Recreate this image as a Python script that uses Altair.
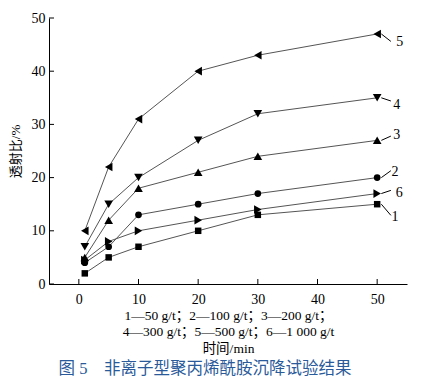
import altair as alt
import pandas as pd

# ---- data ----
time_min = [1, 5, 10, 20, 30, 50]
s1 = [2, 5, 7, 10, 13, 15]        # 50 g/t
s2 = [4, 7, 13, 15, 17, 20]       # 100 g/t
s3 = [5, 12, 18, 21, 24, 27]      # 200 g/t
s4 = [7, 15, 20, 27, 32, 35]      # 300 g/t
s5 = [10, 22, 31, 40, 43, 47]     # 500 g/t
s6 = [4.5, 8, 10, 12, 14, 17]     # 1 000 g/t
series_ids = ["1", "2", "3", "4", "5", "6"]
series_vals = [s1, s2, s3, s4, s5, s6]
shapes = ["square", "circle", "triangle-up", "triangle-down", "triangle-left", "triangle-right"]
marker_sizes = [42, 45, 75, 75, 75, 75]

# end-label placement (data units)
label_x = [53.0, 53.0, 53.3, 53.3, 53.8, 53.7]
label_y = [12.6, 21.1, 28.0, 33.6, 45.5, 17.1]
leader_y = [12.9, 21.3, 27.8, 34.4, 45.6, 17.6]

x_ticks = [0, 10, 20, 30, 40, 50]
y_ticks = [0, 10, 20, 30, 40, 50]

FONT = "Liberation Serif, Noto Sans CJK SC"

rows = []
for sid, vals, sz in zip(series_ids, series_vals, marker_sizes):
    for t, v in zip(time_min, vals):
        rows.append({"series": sid, "time": t, "value": v, "msize": sz})
df = pd.DataFrame(rows)

lab = pd.DataFrame({
    "series": series_ids,
    "lx": label_x,
    "ly": label_y,
    "px": [50.7] * 6,
    "py": [v[-1] for v in series_vals],
    "ex": [52.3] * 6,
    "ey": leader_y,
})

xs = alt.Scale(domain=[-5, 55], nice=False, zero=False)
ys = alt.Scale(domain=[0, 50], nice=False)

x_axis = alt.Axis(
    values=x_ticks, tickSize=0, labelPadding=8, grid=False,
    title=["1—50 g/t；2—100 g/t；3—200 g/t；",
           "4—300 g/t；5—500 g/t；6—1 000 g/t",
           "时间/min"],
    titleLineHeight=16.5, titlePadding=2, titleFontSize=13.5,
)
y_axis = alt.Axis(
    values=y_ticks, tickSize=0, labelPadding=4, grid=False,
    title="透射比/%", titlePadding=9,
)

base = alt.Chart(df)

lines = base.mark_line(color="#555555", strokeWidth=1).encode(
    x=alt.X("time:Q", scale=xs, axis=x_axis),
    y=alt.Y("value:Q", scale=ys, axis=y_axis),
    detail="series:N",
)

points = base.mark_point(filled=True, color="black", opacity=1).encode(
    x=alt.X("time:Q", scale=xs),
    y=alt.Y("value:Q", scale=ys),
    shape=alt.Shape("series:N", scale=alt.Scale(domain=series_ids, range=shapes), legend=None),
    size=alt.Size("msize:Q", scale=None, legend=None),
)

leaders = alt.Chart(lab).mark_rule(color="black", strokeWidth=1).encode(
    x=alt.X("px:Q", scale=xs), x2="ex:Q",
    y=alt.Y("py:Q", scale=ys), y2="ey:Q",
)

labels = alt.Chart(lab).mark_text(font=FONT, fontSize=14, color="black").encode(
    x=alt.X("lx:Q", scale=xs),
    y=alt.Y("ly:Q", scale=ys),
    text="series:N",
)

tick_df_x = pd.DataFrame({"t": x_ticks})
tick_df_y = pd.DataFrame({"t": y_ticks})
xticks = alt.Chart(tick_df_x).mark_rule(color="black").encode(
    x=alt.X("t:Q", scale=xs), y=alt.value(266), y2=alt.value(261)
)
yticks = alt.Chart(tick_df_y).mark_rule(color="black").encode(
    y=alt.Y("t:Q", scale=ys), x=alt.value(0), x2=alt.value(5)
)

chart = alt.layer(lines, points, leaders, labels, xticks, yticks).properties(
    width=358, height=266,
    padding={"left": 41, "top": 10, "right": 21, "bottom": 94},
    autosize=alt.AutoSizeParams(type="none"),
    background="white",
    title=alt.TitleParams(
        "图 5\u3000非离子型聚丙烯酰胺沉降试验结果",
        orient="bottom", font=FONT, fontSize=16.5, fontWeight="normal",
        color="#2a5a9a", offset=6, anchor="middle", dx=-23,
    ),
).configure_view(stroke=None).configure_axis(
    domainColor="black", domainWidth=1,
    labelFont=FONT, labelFontSize=14, labelColor="black",
    titleFont=FONT, titleFontSize=13, titleFontWeight="normal", titleColor="black",
)

chart.save("out.html", embed_options={"renderer": "svg", "actions": False})
